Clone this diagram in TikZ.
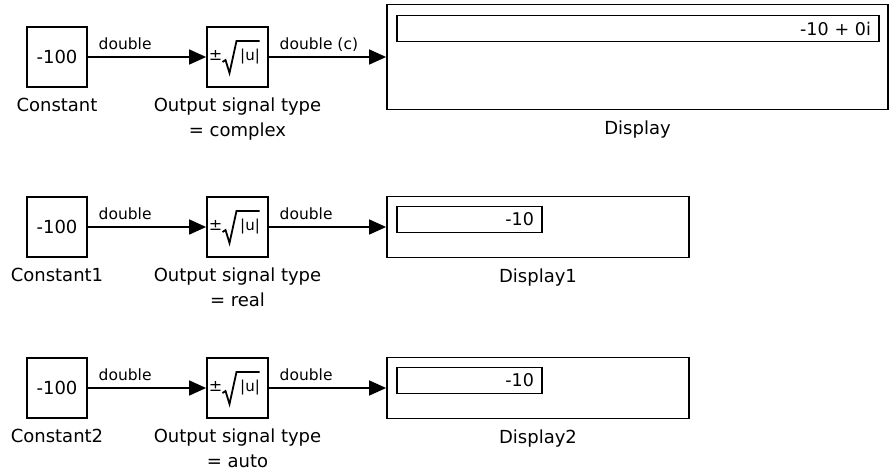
\documentclass[tikz,border=0pt]{standalone}
\usepackage{fontspec}
\setmainfont{DejaVu Sans}
\usetikzlibrary{positioning,arrows.meta}
\tikzset{
    every node/.style={font=\fontsize{18}{25}\selectfont},
    blk/.style={draw,line width=1.8pt,minimum width=60pt,minimum height=60pt,inner sep=0pt},
    sqblk/.style={blk,minimum width=61pt,font=\fontsize{15}{15}\selectfont},
    rad/.style={line width=1.8pt,line join=miter},
    disp/.style={draw,line width=1.8pt,inner sep=0pt},
    readout/.style={draw,line width=1.8pt,minimum height=26pt,inner xsep=8pt,inner ysep=0pt,align=right,font=\fontsize{17.5}{20}\selectfont},
    lbl/.style={inner sep=0pt,align=center},
    sig/.style={line width=1.6pt,-{Triangle[length=17pt,width=15pt]}},
    sigl/.style={pos=0,anchor=base west,xshift=10pt,yshift=8pt,inner sep=0pt,font=\fontsize{15.5}{18}\selectfont}
}
\begin{document}
\begin{tikzpicture}[x=1pt,y=-1pt]
\useasboundingbox (0,0) rectangle (889,471);
% constant and sqrt blocks, one row each
\foreach \n/\y/\cst/\otype in {1/57/Constant/complex,2/227/Constant1/real,3/388/Constant2/auto}{
    \node[blk] (c\n) at (57,\y) {-100};
    \node[lbl,below=10pt of c\n] (cl\n) {\cst};
    \node[sqblk] (s\n) at (237.5,\y) {\kern-6.4pt{\fontsize{16}{16}\selectfont±}\kern18pt|u|};
    \draw[rad] ([shift={(-15,5)}]s\n.center) -- ++(3,-2) -- ++(4,13) -- ++(7,-32) -- ++(23,0);
    \node[lbl,below=10pt of s\n] (sl\n) {Output signal type\\= \otype};
    \draw[sig] (c\n) -- node[sigl] {double} (s\n);
}
% displays
\node[disp,minimum width=501pt,minimum height=105pt] (d1) at (637.5,57) {};
\node[readout,text width=466pt,below right=11pt and 10pt of d1.north west] (r1) {-10 + 0i};
\node[lbl,below=10pt of d1] (dl1) {Display};
\draw[sig] (s1) -- node[sigl] {double (c)} (d1);

\node[disp,minimum width=302pt,minimum height=61pt] (d2) at (538,227) {};
\node[readout,text width=129pt,below right=10pt and 10pt of d2.north west] (r2) {-10};
\node[lbl,below=10pt of d2] (dl2) {Display1};
\draw[sig] (s2) -- node[sigl] {double} (d2);

\node[disp,minimum width=302pt,minimum height=61pt] (d3) at (538,388) {};
\node[readout,text width=129pt,below right=10pt and 10pt of d3.north west] (r3) {-10};
\node[lbl,below=10pt of d3] (dl3) {Display2};
\draw[sig] (s3) -- node[sigl] {double} (d3);
\end{tikzpicture}
\end{document}
